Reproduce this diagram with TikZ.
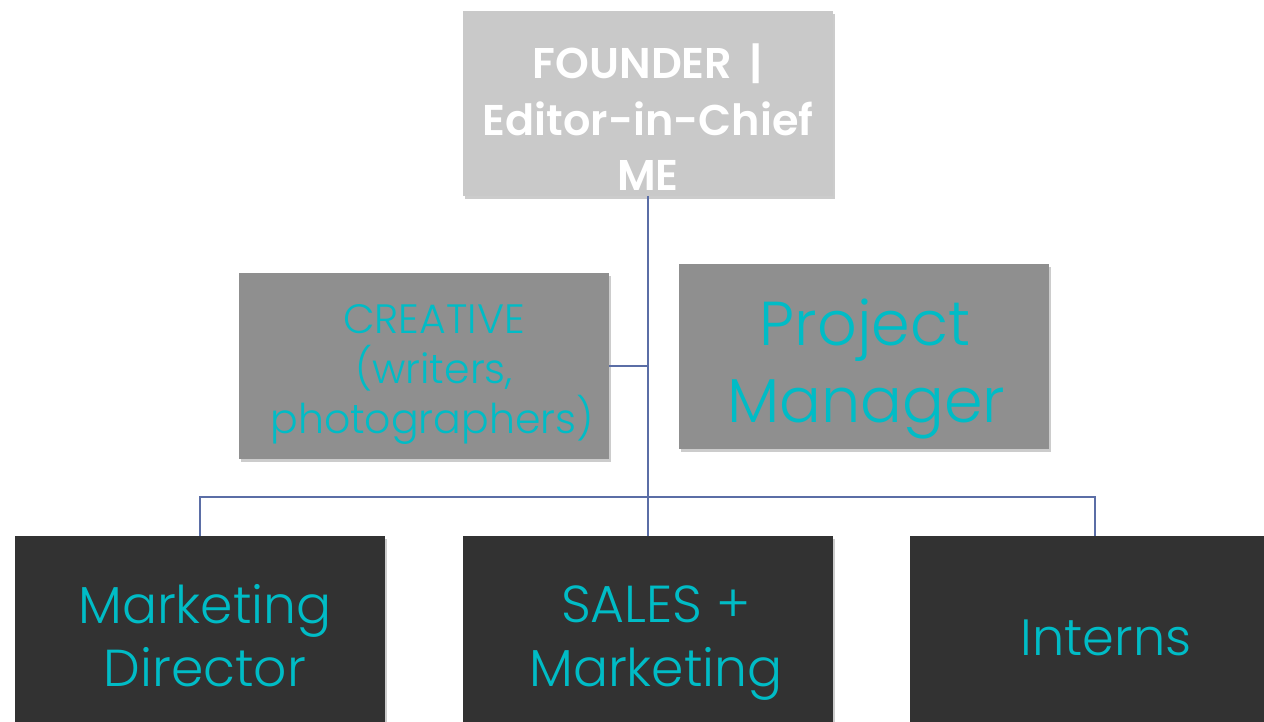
\documentclass[tikz,border=0pt]{standalone}
\usepackage{fontspec}
\setmainfont{Poppins}[UprightFont=* Light, BoldFont=* SemiBold]
\usetikzlibrary{shadows}
\definecolor{topfill}{HTML}{C9C9C9}
\definecolor{midfill}{HTML}{8F8F8F}
\definecolor{lowfill}{HTML}{323232}
\definecolor{cyantext}{HTML}{00BCC6}
\definecolor{linkcol}{HTML}{5B6EA6}
\begin{document}
\begin{tikzpicture}[x=1pt,y=-1pt,
  box/.style={draw=none, rectangle, inner sep=0pt, outer sep=0pt,
    drop shadow={shadow xshift=2pt, shadow yshift=-3pt, opacity=0.2, fill=black}},
  toplabel/.style={text=white, font=\bfseries\fontsize{43}{56}\selectfont, align=center, inner sep=0pt},
  cyanlabel/.style={text=cyantext, align=center, inner sep=0pt},
  link/.style={draw=linkcol, line width=1.5pt}]
\useasboundingbox (0,0) rectangle (1264,721);
\fill[white] (0,0) rectangle (1264,721);
% boxes
\node[box, fill=topfill, minimum width=370pt, minimum height=185pt] (founder) at (648,103.5) {};
\node[box, fill=midfill, minimum width=370pt, minimum height=186pt] (creative) at (424,366) {};
\node[box, fill=midfill, minimum width=370pt, minimum height=185pt] (pm) at (864,356.5) {};
\node[box, fill=lowfill, minimum width=370pt, minimum height=200pt, anchor=north] (mkt) at (200,536) {};
\node[box, fill=lowfill, minimum width=370pt, minimum height=200pt, anchor=north] (sales) at (648,536) {};
\node[box, fill=lowfill, minimum width=370pt, minimum height=200pt, anchor=north] (interns) at (1095,536) {};
% connectors
\coordinate (bus) at (648,497);
\coordinate (cj) at (648,366);
\draw[link] (founder.south) -- (sales.north);
\draw[link] (creative.east) -- (cj);
\draw[link] (mkt.north) |- (bus) -| (interns.north);
% labels
\node[toplabel, anchor=base] (l1) at (648,78) {FOUNDER \,|};
\node[toplabel, anchor=base] (l2) at (648,135) {Editor-in-Chief};
\node[toplabel, anchor=base] (l3) at (648,190) {ME};
\node[cyanlabel, anchor=base, font=\fontsize{41}{50}\selectfont] (c1) at (434,333) {CREATIVE};
\node[cyanlabel, anchor=base, font=\fontsize{41}{50}\selectfont] (c2) at (434,383) {(writers,};
\node[cyanlabel, anchor=base, font=\fontsize{41}{50}\selectfont] (c3) at (432,433) {photographers)};
\node[cyanlabel, anchor=base, font=\fontsize{62}{77}\selectfont] (p1) at (865,345) {Project};
\node[cyanlabel, anchor=base, font=\fontsize{62}{77}\selectfont] (p2) at (866,422) {Manager};
\node[cyanlabel, anchor=base, font=\fontsize{52}{63}\selectfont] (m1) at (205,623) {Marketing};
\node[cyanlabel, anchor=base, font=\fontsize{52}{63}\selectfont] (m2) at (205,686) {Director};
\node[cyanlabel, anchor=base, font=\fontsize{52}{63}\selectfont] (s1) at (656,622) {SALES +};
\node[cyanlabel, anchor=base, font=\fontsize{52}{63}\selectfont] (s2) at (656,686) {Marketing};
\node[cyanlabel, anchor=base, font=\fontsize{51}{63}\selectfont] (i1) at (1106,655) {Interns};
\end{tikzpicture}
\end{document}
